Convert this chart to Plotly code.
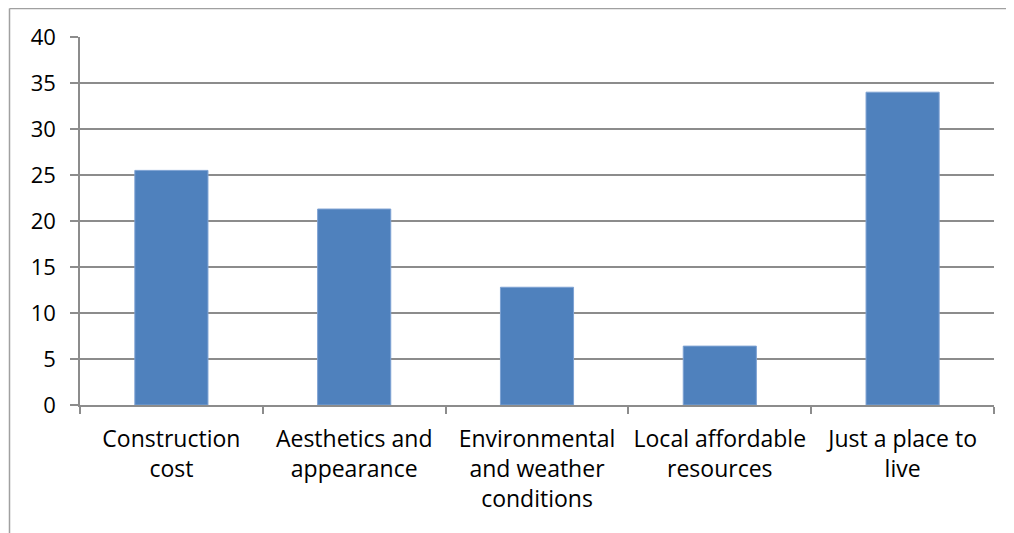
import plotly.graph_objects as go

categories = ["Construction cost", "Aesthetics and appearance",
              "Environmental and weather conditions",
              "Local affordable resources", "Just a place to live"]
tick_labels = ["Construction<br>cost", "Aesthetics and<br>appearance",
               "Environmental<br>and weather<br>conditions",
               "Local affordable<br>resources", "Just a place to<br>live"]
values = [25.5, 21.3, 12.8, 6.4, 34.0]
y_ticks = [0, 5, 10, 15, 20, 25, 30, 35, 40]

# page body has an 8px margin; work in screen pixels and shift
OFF = 8
W, H = 1014 - OFF, 533 - OFF
L, R, T, B = 80 - OFF, 20, 37 - OFF, 128
pw, ph = W - L - R, H - T - B

def px_x(x):
    return (x - OFF - L) / pw

def px_y(y):
    return (H - B - (y - OFF)) / ph

FONT = "Open Sans, Lato, sans-serif"

fig = go.Figure(go.Bar(
    x=categories, y=values,
    marker=dict(color="#4F81BD", line=dict(color="#7EA2D3", width=1)),
    width=0.4,
))

fig.update_layout(
    width=W, height=H,
    margin=dict(l=L, r=R, t=T, b=B, pad=0),
    paper_bgcolor="white", plot_bgcolor="white",
    showlegend=False,
    font=dict(family=FONT, size=22, color="black"),
    xaxis=dict(
        type="category",
        tickmode="array", tickvals=categories, ticktext=tick_labels,
        tickson="boundaries", ticks="outside", ticklen=7, tickwidth=1.5,
        tickcolor="#8c8c8c", tickfont=dict(size=23),
        showline=True, linecolor="#8c8c8c", linewidth=1.5,
        showgrid=False, tickangle=0, ticklabelstandoff=13,
    ),
    yaxis=dict(
        range=[0, 40], tickvals=y_ticks,
        ticks="outside", ticklen=8, tickwidth=1.5, tickcolor="#8c8c8c",
        showline=True, linecolor="#8c8c8c", linewidth=1.5,
        showgrid=True, gridcolor="#8c8c8c", gridwidth=1.5,
        zeroline=False, ticklabelstandoff=10,
    ),
    shapes=[
        dict(type="line", xref="paper", yref="paper",
             x0=px_x(9.5), x1=px_x(1030), y0=px_y(8.5), y1=px_y(8.5),
             line=dict(color="#a0a0a0", width=1.5)),
        dict(type="line", xref="paper", yref="paper",
             x0=px_x(9.5), x1=px_x(9.5), y0=px_y(8.5), y1=px_y(560),
             line=dict(color="#a0a0a0", width=1.5)),
    ],
)

fig.write_html("out.html")
